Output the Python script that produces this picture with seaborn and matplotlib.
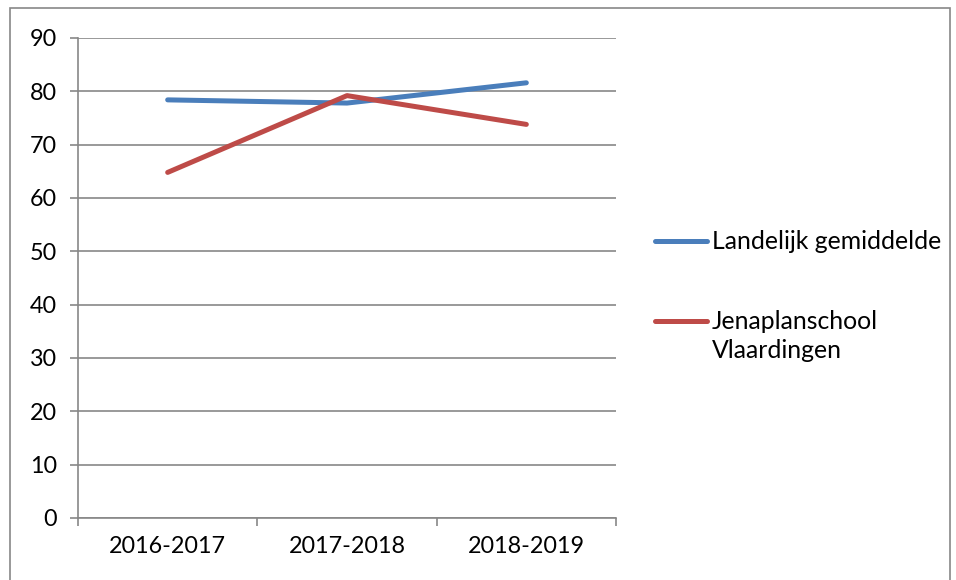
import matplotlib
matplotlib.use("Agg")
import matplotlib.pyplot as plt
import seaborn as sns
import pandas as pd
from matplotlib.lines import Line2D
from matplotlib.patches import Rectangle

# data
jaren = ["2016-2017", "2017-2018", "2018-2019"]
landelijk = [78.4, 77.8, 81.6]
jenaplan = [64.8, 79.2, 73.8]
reeksen = ["Landelijk gemiddelde", "Jenaplanschool\nVlaardingen"]
kleuren = ["#4A7EBB", "#BE4B48"]

df = pd.DataFrame({
    "jaar": jaren * 2,
    "score": landelijk + jenaplan,
    "reeks": [reeksen[0]] * 3 + [reeksen[1]] * 3,
})

sns.set_theme(style="white")
plt.rcParams["font.family"] = ["Lato", "DejaVu Sans"]

fig = plt.figure(figsize=(9.56, 5.8), dpi=100)
ax = fig.add_axes([78 / 956, 1 - 518 / 580, (616 - 78) / 956, (518 - 38) / 580])

sns.lineplot(data=df, x="jaar", y="score", hue="reeks", palette=kleuren,
             linewidth=3.6, ax=ax, legend=False, solid_capstyle="round")

grijs = "#878787"
ax.set_xlim(-0.5, 2.5)
ax.set_ylim(0, 90)
ax.set_yticks(range(0, 91, 10))
ax.yaxis.grid(True, color=grijs, linewidth=1.2)
ax.set_axisbelow(True)
ax.set_xlabel("")
ax.set_ylabel("")
for s in ["top", "right"]:
    ax.spines[s].set_visible(False)
for s in ["left", "bottom"]:
    ax.spines[s].set_color(grijs)
    ax.spines[s].set_linewidth(1.2)
ax.set_xticks([-0.5, 0.5, 1.5, 2.5], minor=True)
ax.tick_params(axis="x", which="minor", length=6, color=grijs, width=1.2, direction="out", bottom=True)
ax.tick_params(axis="x", which="major", length=0, pad=13, labelsize=16.8, colors="black")
ax.tick_params(axis="y", length=6, color=grijs, width=1.2, direction="out", left=True,
               pad=9, labelsize=16.8, labelcolor="black")

# outer chart border (bottom edge runs off the image as in the reference)
fig.add_artist(Rectangle((10 / 956, -0.05), 940 / 956, 1.05 - 8 / 580,
                         transform=fig.transFigure, fill=False, edgecolor=grijs, linewidth=1.2))

# legend drawn by hand to match layout
leg_y = [241, 321]
for kleur, label, y in zip(kleuren, reeksen, leg_y):
    yf = 1 - y / 580
    fig.add_artist(Line2D([655 / 956, 707 / 956], [yf, yf], transform=fig.transFigure,
                          color=kleur, linewidth=3.6, solid_capstyle="round"))
    fig.text(712 / 956, yf + 11 / 580, label, ha="left", va="top", fontsize=17.8,
             color="black", linespacing=1.3)

fig.savefig("out.png", dpi=100)
